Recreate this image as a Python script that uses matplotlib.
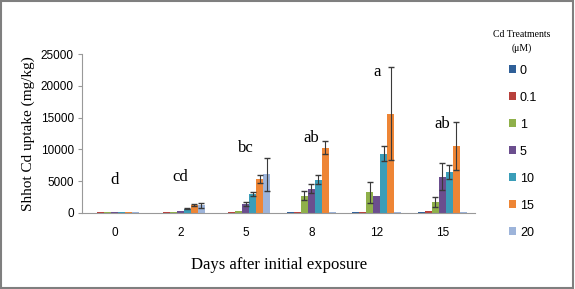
import numpy as np
import matplotlib.pyplot as plt
from matplotlib.patches import Rectangle

# Dados
days = ['0', '2', '5', '8', '12', '15']
treatments = ['0', '0.1', '1', '5', '10', '15', '20']
colors = ['#2F5F98', '#B8403C', '#8FB04A', '#6B4E8E', '#3A9DB8', '#EE8535', '#9DB4DA']

uptake = np.array([
    [60, 50, 60, 100, 100, 150],        # 0
    [80, 80, 80, 100, 200, 250],        # 0.1
    [100, 120, 300, 2700, 3250, 1750],  # 1
    [150, 300, 1400, 3800, 2600, 5700], # 5
    [150, 700, 3000, 5200, 9300, 6500], # 10
    [200, 1250, 5300, 10300, 15600, 10500], # 15
    [200, 1200, 6100, 100, 100, 100],   # 20
])
err = np.array([
    [0, 0, 0, 0, 0, 0],
    [0, 0, 0, 0, 0, 0],
    [0, 0, 0, 700, 1600, 800],
    [0, 0, 350, 700, 0, 2100],
    [0, 150, 250, 700, 1200, 1100],
    [0, 150, 650, 1000, 7300, 3800],
    [0, 450, 2600, 0, 0, 0],
])

letters = ['d', 'cd', 'bc', 'ab', 'a', 'ab']
letter_y = [5200, 5600, 10200, 11800, 22200, 14000]

plt.rcParams['font.family'] = 'Liberation Serif'

fig = plt.figure(figsize=(5.75, 2.89), dpi=100)
ax = fig.add_axes([0.143, 0.263, 0.683, 0.55])

x = np.arange(len(days))
w = 0.107
for i, t in enumerate(treatments):
    pos = x + (i - 3) * w
    ax.bar(pos, uptake[i], w, color=colors[i], label=t)
    mask = err[i] > 0
    ax.errorbar(pos[mask], uptake[i][mask], yerr=err[i][mask], fmt='none',
                ecolor='#3a3a3a', elinewidth=0.8, capsize=2, capthick=1)

for xi, (lt, ly) in enumerate(zip(letters, letter_y)):
    ax.text(xi, ly, lt, ha='center', va='center', fontsize=12)

ax.set_xlim(-0.5, 5.5)
ax.set_ylim(0, 25000)
ax.set_yticks(range(0, 25001, 5000))
ax.set_xticks(x)
ax.set_xticklabels(days)
for lbl in ax.get_xticklabels() + ax.get_yticklabels():
    lbl.set_fontfamily('Liberation Sans')
    lbl.set_fontsize(8.5)
ax.tick_params(axis='x', length=0, pad=10)
ax.tick_params(axis='y', length=3, color='#999999', pad=3)
for s in ['top', 'right']:
    ax.spines[s].set_visible(False)
ax.spines['left'].set_color('#999999')
ax.spines['bottom'].set_color('#999999')

ax.set_ylabel('Shhot Cd uptake (mg/kg)', fontsize=11)
ax.set_xlabel('Days after initial exposure', fontsize=12, labelpad=13)

fig.text(0.908, 0.856, 'Cd Treatments\n(μM)', ha='center', va='center', fontsize=7,
         linespacing=1.5)
leg = fig.legend(loc='upper left', bbox_to_anchor=(0.865, 0.815), frameon=False,
                 prop={'family': 'Liberation Sans', 'size': 9},
                 handlelength=0.6, handleheight=0.6, handletextpad=0.3,
                 labelspacing=1.2)

fig.patches.append(Rectangle((0.002, 0.004), 0.994, 0.992, transform=fig.transFigure,
                             fill=False, edgecolor='#7f7f7f', linewidth=1.5))

fig.savefig('out.png', dpi=100)
